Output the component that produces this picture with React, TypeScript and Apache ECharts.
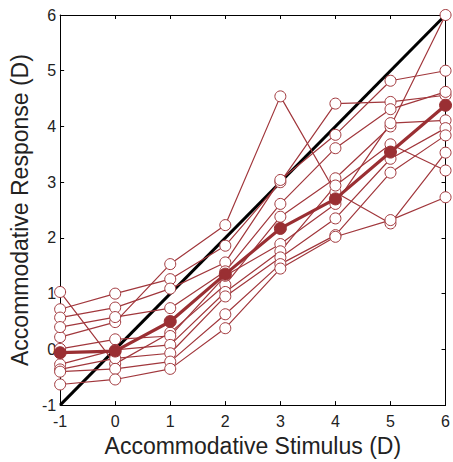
import React, { useEffect, useRef } from "react";
import * as echarts from "echarts";

const stimulus = [-1, 0, 1, 2, 3, 4, 5, 6];
const tickLabels = ["-1", "0", "1", "2", "3", "4", "5", "6"];

const subject1 = [0.22, 0.49, 1.53, 2.23, 4.54, 2.82, 2.26, 3.53];
const subject2 = [0.72, 1.0, 1.26, 1.86, 3.0, 4.41, 4.44, 4.56];
const subject3 = [0.57, 0.75, 1.09, 1.56, 3.04, 3.85, 4.82, 5.0];
const subject4 = [0.4, 0.58, 0.74, 1.4, 2.61, 3.61, 4.31, 4.62];
const subject5 = [1.03, -0.26, 0.3, 1.16, 2.38, 3.07, 4.0, 6.0];
const subject6 = [0.01, 0.18, 0.24, 1.32, 1.89, 2.61, 4.06, 4.11];
const subject7 = [-0.27, -0.01, 0.08, 1.03, 1.76, 2.94, 3.68, 3.21];
const subject8 = [-0.36, -0.16, -0.07, 0.95, 1.65, 2.35, 3.42, 3.97];
const subject9 = [-0.4, -0.35, -0.22, 0.63, 1.53, 2.05, 3.17, 3.84];
const subject10 = [-0.63, -0.54, -0.35, 0.38, 1.45, 2.02, 2.32, 2.73];
const meanResponse = [-0.06, -0.03, 0.5, 1.35, 2.17, 2.7, 3.54, 4.38];
const identityLine = [-1, 6];

const subjects = [
  subject1, subject2, subject3, subject4, subject5,
  subject6, subject7, subject8, subject9, subject10,
];

const RED = "#a1373c";
const FONT = "'Liberation Sans', Arial, Helvetica, sans-serif";

export default function App() {
  const ref = useRef<HTMLDivElement>(null);
  useEffect(() => {
    if (!ref.current) return;
    const chart = echarts.init(ref.current, null, { renderer: "svg" });
    const pair = (ys: number[]) => stimulus.map((x, i) => [x, ys[i]]);
    const axisCommon = {
      type: "value" as const,
      min: -1,
      max: 6,
      interval: 1,
      splitLine: { show: false },
      axisLine: { show: true, onZero: false, lineStyle: { color: "#000", width: 1 } },
      axisTick: { show: true, inside: true, length: 4, lineStyle: { color: "#000" } },
    };
    const series: any[] = [
      {
        type: "line",
        data: identityLine.map((v) => [v, v]),
        showSymbol: false,
        symbol: "none",
        lineStyle: { color: "#000", width: 3 },
        z: 2,
        silent: true,
      },
    ];
    subjects.forEach((s) => {
      series.push({
        type: "line",
        data: pair(s),
        symbol: "circle",
        symbolSize: 11,
        lineStyle: { color: RED, width: 1.2 },
        itemStyle: { color: "#fff", borderColor: RED, borderWidth: 1 },
        z: 3,
      });
    });
    series.push({
      type: "line",
      data: pair(meanResponse),
      symbol: "circle",
      symbolSize: 12,
      lineStyle: { color: "#9a2f33", width: 3.2 },
      itemStyle: { color: "#9a2f33", borderColor: "#9a2f33", borderWidth: 1 },
      z: 4,
    });
    chart.setOption({
      animation: false,
      backgroundColor: "#fff",
      textStyle: { fontFamily: FONT },
      grid: { left: 54, top: 15, right: 2.5, bottom: 50, containLabel: false },
      xAxis: [
        {
          ...axisCommon,
          position: "bottom",
          name: "Accommodative Stimulus (D)",
          nameLocation: "middle",
          nameGap: 24,
          nameTextStyle: { fontSize: 23, color: "#222", fontFamily: FONT },
          axisLabel: {
            show: true,
            margin: 8,
            fontSize: 16,
            color: "#222",
            fontFamily: FONT,
            formatter: (v: number) => tickLabels[stimulus.indexOf(v)] ?? String(v),
          },
        },
        {
          ...axisCommon,
          position: "top",
          axisLabel: { show: false },
        },
      ],
      yAxis: [
        {
          ...axisCommon,
          position: "left",
          name: "Accommodative Response (D)",
          nameLocation: "middle",
          nameRotate: 90,
          nameGap: 22,
          nameTextStyle: { fontSize: 23, color: "#222", fontFamily: FONT },
          axisLabel: {
            show: true,
            margin: 4,
            fontSize: 16,
            color: "#222",
            fontFamily: FONT,
            formatter: (v: number) => tickLabels[stimulus.indexOf(v)] ?? String(v),
          },
        },
        {
          ...axisCommon,
          position: "right",
          axisLabel: { show: false },
        },
      ],
      series,
    });
    return () => chart.dispose();
  }, []);
  return (
    <div
      ref={ref}
      style={{ position: "fixed", left: 0, top: 0, width: 453, height: 462, background: "#fff" }}
    />
  );
}
